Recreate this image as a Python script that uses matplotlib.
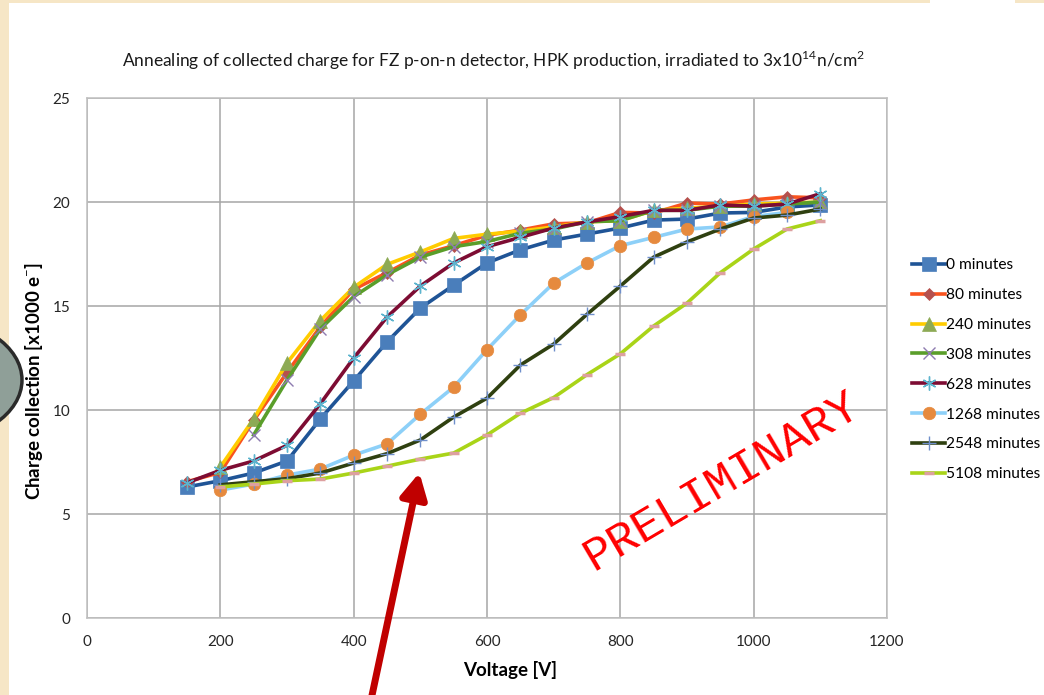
import numpy as np
import matplotlib
matplotlib.use('Agg')
import matplotlib.pyplot as plt
from matplotlib.patches import Rectangle, Circle, FancyArrowPatch

nan = np.nan

voltage = [150, 200, 250, 300, 350, 400, 450, 500, 550, 600,
           650, 700, 750, 800, 850, 900, 950, 1000, 1050, 1100]

min0 = [6.3, 6.6, 6.97, 7.55, 9.57, 11.4, 13.27, 14.9, 16.0, 17.07,
        17.7, 18.17, 18.46, 18.75, 19.13, 19.18, 19.47, 19.5, 19.76, 19.86]
min80 = [6.55, 7.0, 9.5, 11.8, 14.0, 15.8, 16.6, 17.45, 17.9, 18.4,
         18.65, 18.95, 19.0, 19.5, 19.47, 19.95, 19.9, 20.1, 20.25, 20.2]
min240 = [nan, 7.26, 9.57, 12.26, 14.3, 15.9, 17.0, 17.6, 18.25, 18.45,
          18.6, 18.8, 19.05, 19.1, 19.6, 19.7, 19.8, 19.9, 19.95, 20.0]
min308 = [nan, nan, 8.8, 11.44, 13.9, 15.45, 16.5, 17.35, 17.85, 18.1,
          18.5, 18.7, 19.05, 19.1, 19.6, 19.6, 19.8, 19.8, 19.9, 20.0]
min628 = [6.5, 7.1, 7.55, 8.3, 10.3, 12.5, 14.47, 15.96, 17.07, 17.85,
          18.3, 18.75, 19.04, 19.3, 19.6, 19.6, 19.86, 19.8, 19.9, 20.4]
min1268 = [nan, 6.15, 6.44, 6.87, 7.16, 7.83, 8.37, 9.8, 11.1, 12.9,
           14.57, 16.1, 17.07, 17.9, 18.3, 18.7, 18.8, 19.3, 19.5, nan]
min2548 = [nan, 6.4, 6.55, 6.7, 6.97, 7.45, 7.9, 8.56, 9.66, 10.57,
           12.16, 13.17, 14.6, 15.96, 17.35, 18.08, 18.7, 19.23, 19.37, 19.66]
min5108 = [nan, 6.3, 6.44, 6.6, 6.68, 6.97, 7.3, 7.64, 7.93, 8.8,
           9.84, 10.6, 11.7, 12.7, 14.04, 15.14, 16.6, 17.74, 18.7, 19.1]

labels = ['0 minutes', '80 minutes', '240 minutes', '308 minutes',
          '628 minutes', '1268 minutes', '2548 minutes', '5108 minutes']
series = [min0, min80, min240, min308, min628, min1268, min2548, min5108]

# (line colour, marker, marker colour, marker size, marker edge width)
styles = [
    ('#1F5496', 's', '#4A7EBB', 9.5, 0.5),
    ('#F9531E', 'D', '#B5504D', 6.5, 0.5),
    ('#FFCC00', '^', '#8DAA55', 9.5, 0.5),
    ('#5A9E2A', 'x', '#8E7CB0', 9, 1.0),
    ('#7D0C33', (6, 2, 0), '#5CB4CE', 10, 1.0),
    ('#8DD0F8', 'o', '#E68A3E', 9, 0.5),
    ('#2F4010', '+', '#6F8FCB', 10, 1.0),
    ('#A9D418', '_', '#DDA0A0', 7, 2.5),
]

plt.rcParams['font.family'] = ['Lato', 'DejaVu Sans']
plt.rcParams['mathtext.fontset'] = 'custom'
plt.rcParams['mathtext.rm'] = 'Lato'
plt.rcParams['mathtext.bf'] = 'Lato:bold'

W, H = 1044, 695
fig = plt.figure(figsize=(W / 100, H / 100), dpi=100)
fig.patch.set_facecolor('#F6E6C6')

# white slide panel + decorative circle on the left edge
fig.patches.append(Rectangle((9 / W, 0), 1 - 9 / W, 1 - 3 / H, transform=fig.transFigure,
                             facecolor='white', edgecolor='none', zorder=-2))
fig.patches.append(Rectangle((930 / W, 1 - 3 / H), 85 / W, 3 / H, transform=fig.transFigure,
                             facecolor='white', edgecolor='none', zorder=-2))
fig.patches.append(Circle((-71 / W, 1 - 380 / H), 93 / W, transform=fig.transFigure,
                          facecolor='#8F9F98', edgecolor='#2A2A2A', lw=2.5, zorder=-1))

ax = fig.add_axes([87 / W, (H - 618) / H, 800 / W, 520 / H])
ax.set_zorder(2)
ax.set_facecolor('none')

for vals, lab, (lc, mk, mc, ms, mew) in zip(series, labels, styles):
    ax.plot(voltage, vals, color=lc, lw=2.6, marker=mk, markersize=ms,
            markerfacecolor=mc, markeredgecolor=mc, markeredgewidth=mew,
            label=lab, zorder=3)

ax.set_xlim(0, 1200)
ax.set_ylim(0, 25)
ax.set_xticks(range(0, 1201, 200))
ax.set_yticks(range(0, 26, 5))
ax.grid(True, color='#A6A6A6', lw=1.1)
ax.set_axisbelow(True)
for s in ax.spines.values():
    s.set_color('#BFBFBF')
    s.set_linewidth(1.1)
ax.tick_params(length=0, labelsize=11, colors='#262626', pad=12)

ax.set_xlabel('Voltage [V]', fontsize=13.5, fontweight='bold')
ax.xaxis.set_label_coords(0.529, -0.083)
ax.set_ylabel('Charge collection [x1000 e$^{-}$]', fontsize=13.5, fontweight='bold')
ax.yaxis.set_label_coords(-0.053, 0.455)

fig.text(494 / W, 1 - 60 / H,
         'Annealing of collected charge for FZ p-on-n detector, HPK production, '
         'irradiated to 3x10$^{14}$n/cm$^{2}$',
         ha='center', va='center', fontsize=12.5, color='#1A1A1A')

leg = ax.legend(loc='upper left', bbox_to_anchor=(906 / W, 1 - 252 / H),
                bbox_transform=fig.transFigure, frameon=False, fontsize=11.2,
                handlelength=2.1, handletextpad=0.1, labelspacing=1.02,
                borderaxespad=0)

fig.text(722 / W, 1 - 481 / H, 'PRELIMINARY', rotation=30.5, ha='center', va='center',
         family='Liberation Mono', fontsize=34, color='#FF0000', zorder=5)

fig.add_artist(FancyArrowPatch(
    (371 / W, -5 / H), (420 / W, 1 - 470 / H), transform=fig.transFigure,
    arrowstyle='-|>,head_length=15,head_width=8', mutation_scale=1,
    color='#C00000', lw=5, zorder=10))

fig.savefig('out.png', dpi=100, facecolor=fig.get_facecolor())
